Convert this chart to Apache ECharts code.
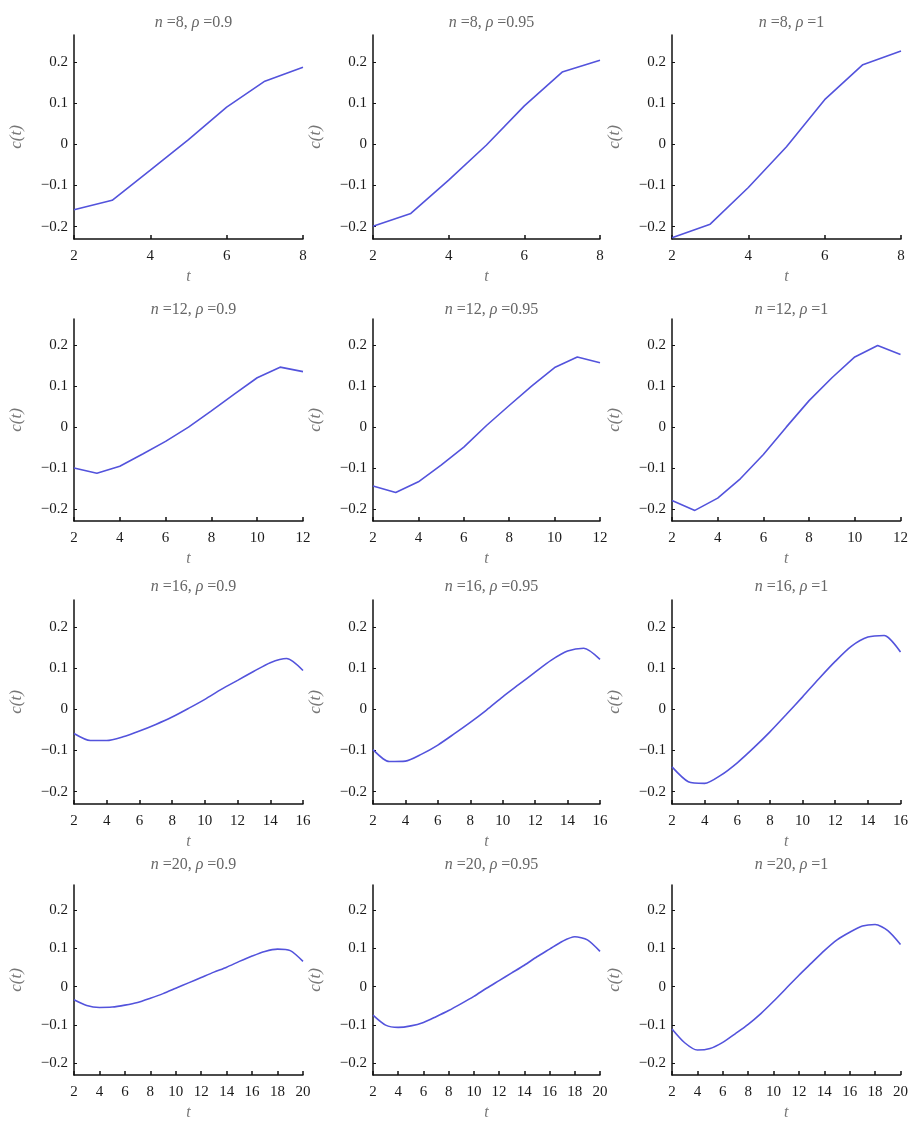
<!DOCTYPE html>
<html>
<head>
<meta charset="utf-8">
<script src="https://cdn.jsdelivr.net/npm/echarts@6/dist/echarts.min.js"></script>
<style>html,body{margin:0;padding:0;background:#fff}#c{width:911px;height:1122px}</style>
</head>
<body>
<div id="c"></div>
<script>
// ---- data ----
const nValues = [8, 12, 16, 20];
const rhoLabels = ["0.9", "0.95", "1"];
const yTicks = [-0.2, -0.1, 0, 0.1, 0.2];

// c(t) values for t = 2 .. n
const c_n8_r090  = [-0.159, -0.136, -0.063, 0.011, 0.090, 0.153, 0.187];
const c_n8_r095  = [-0.199, -0.168, -0.087, -0.002, 0.093, 0.175, 0.204];
const c_n8_r100  = [-0.227, -0.194, -0.105, -0.006, 0.108, 0.193, 0.226];

const c_n12_r090 = [-0.100, -0.113, -0.096, -0.066, -0.035, 0.000, 0.040, 0.081, 0.121, 0.147, 0.136];
const c_n12_r095 = [-0.144, -0.160, -0.134, -0.093, -0.049, 0.004, 0.053, 0.101, 0.146, 0.172, 0.158];
const c_n12_r100 = [-0.180, -0.204, -0.174, -0.126, -0.067, 0.000, 0.065, 0.121, 0.172, 0.200, 0.178];

const c_n16_r090 = [-0.059, -0.076, -0.076, -0.067, -0.053, -0.037, -0.019, 0.002, 0.024, 0.048, 0.070, 0.092, 0.113, 0.123, 0.094];
const c_n16_r095 = [-0.098, -0.127, -0.126, -0.109, -0.087, -0.060, -0.032, -0.002, 0.030, 0.060, 0.090, 0.119, 0.141, 0.148, 0.121];
const c_n16_r100 = [-0.140, -0.176, -0.180, -0.160, -0.130, -0.094, -0.055, -0.013, 0.030, 0.074, 0.116, 0.153, 0.175, 0.179, 0.139];

const c_n20_r090 = [-0.034, -0.049, -0.054, -0.053, -0.048, -0.041, -0.030, -0.018, -0.004, 0.010, 0.024, 0.038, 0.051, 0.066, 0.080, 0.092, 0.098, 0.094, 0.066];
const c_n20_r095 = [-0.074, -0.100, -0.106, -0.102, -0.093, -0.078, -0.062, -0.044, -0.025, -0.004, 0.016, 0.036, 0.056, 0.078, 0.098, 0.118, 0.130, 0.122, 0.092];
const c_n20_r100 = [-0.110, -0.146, -0.165, -0.161, -0.145, -0.122, -0.098, -0.070, -0.038, -0.004, 0.030, 0.062, 0.094, 0.122, 0.142, 0.158, 0.162, 0.146, 0.110];

const panelData = [
  [c_n8_r090, c_n8_r095, c_n8_r100],
  [c_n12_r090, c_n12_r095, c_n12_r100],
  [c_n16_r090, c_n16_r095, c_n16_r100],
  [c_n20_r090, c_n20_r095, c_n20_r100]
];

// ---- layout ----
const colLeft = [74, 373, 672];
const colWidth = [229, 227, 229];
const rowTop = [35, 319, 600, 885];
const rowHeight = [204, 202, 204, 202];
const titleTop = [10, 297, 574, 852];

const serif = '"Liberation Serif", "DejaVu Serif", serif';
const lineColor = '#5353dc';

const grids = [], xAxes = [], yAxes = [], series = [], titles = [];
let k = 0;
for (let r = 0; r < 4; r++) {
  const n = nValues[r];
  for (let c = 0; c < 3; c++) {
    grids.push({left: colLeft[c], top: rowTop[r], width: colWidth[c], height: rowHeight[r], containLabel: false});
    titles.push({
      text: '{i|n} =' + n + ', {i|ρ} =' + rhoLabels[c],
      left: colLeft[c] + colWidth[c] / 2,
      top: titleTop[r],
      textAlign: 'center',
      textStyle: {
        fontFamily: serif, fontSize: 16, fontWeight: 'normal', color: '#666',
        rich: {i: {fontFamily: serif, fontSize: 16, fontStyle: 'italic', color: '#666'}}
      }
    });
    xAxes.push({
      type: 'value', gridIndex: k, min: 2, max: n, interval: 2,
      name: 't', nameLocation: 'middle', nameGap: 30,
      nameTextStyle: {fontFamily: serif, fontStyle: 'italic', fontSize: 16, color: '#777'},
      axisLine: {show: true, onZero: false, lineStyle: {color: '#111', width: 1.5}},
      axisTick: {show: true, inside: true, length: 4, lineStyle: {color: '#111', width: 1.5}},
      axisLabel: {fontFamily: serif, fontSize: 15, color: '#1a1a1a', margin: 10, showMinLabel: true, showMaxLabel: true},
      splitLine: {show: false}
    });
    yAxes.push({
      type: 'value', gridIndex: k, min: -0.23, max: 0.265,
      name: 'c(t)', nameLocation: 'middle', nameGap: 49, nameRotate: 90,
      nameTextStyle: {fontFamily: serif, fontStyle: 'italic', fontSize: 17, color: '#777'},
      axisLine: {show: true, lineStyle: {color: '#111', width: 1.5}},
      axisTick: {show: true, inside: true, length: 3, customValues: yTicks, lineStyle: {color: '#111'}},
      axisLabel: {
        fontFamily: serif, fontSize: 15, color: '#1a1a1a', margin: 6, customValues: yTicks,
        formatter: v => (Math.abs(v) < 1e-9 ? '0' : String(+v.toFixed(1)).replace('-', '\u2212'))
      },
      splitLine: {show: false}
    });
    const vals = panelData[r][c];
    series.push({
      type: 'line', xAxisIndex: k, yAxisIndex: k,
      data: vals.map((v, i) => [i + 2, v]),
      showSymbol: false, symbol: 'none', smooth: r >= 2 ? 0.25 : false,
      lineStyle: {color: lineColor, width: 1.6},
      clip: false
    });
    k++;
  }
}

const chart = echarts.init(document.getElementById('c'), null, {renderer: 'canvas'});
chart.setOption({
  backgroundColor: '#fff',
  animation: false,
  title: titles,
  grid: grids,
  xAxis: xAxes,
  yAxis: yAxes,
  series: series
});
</script>
</body>
</html>
